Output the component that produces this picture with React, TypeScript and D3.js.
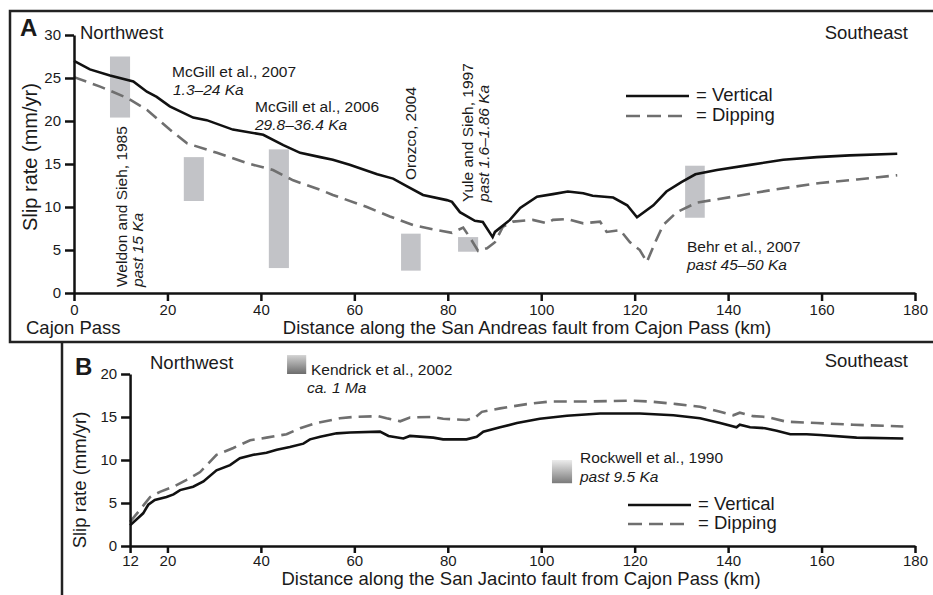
import * as d3 from 'd3';
import { useEffect, useRef } from 'react';

// San Andreas (panel A): [km, slip rate mm/yr]
const saVertical: [number, number][] = [
  [0, 27.0], [3.4, 26.0], [7.7, 25.3], [12.7, 24.6], [15.6, 23.4], [17.7, 22.8], [20.5, 21.7],
  [25.5, 20.4], [28.4, 20.1], [34, 19.0], [40.5, 18.4], [44.8, 17.2], [48.4, 16.3], [52.7, 15.8],
  [55.4, 15.5], [59, 14.9], [64.9, 13.8], [68.3, 13.3], [71.3, 12.4], [74.7, 11.4], [79.8, 10.8],
  [80.9, 10.6], [82.6, 9.4], [85.8, 8.4], [87.5, 8.25], [89.6, 6.5], [90.1, 7.1], [93.3, 8.5],
  [95.5, 9.9], [99.1, 11.2], [102.5, 11.5], [105.7, 11.8], [109, 11.6], [111, 11.3], [115.4, 11.1],
  [118.4, 10.2], [120.5, 8.8], [124, 10.2], [126.8, 11.8], [130, 12.9], [133, 13.8], [137.6, 14.3],
  [144.7, 14.9], [151.8, 15.5], [159, 15.8], [166, 16.0], [176.2, 16.2],
];
const saDipping: [number, number][] = [
  [0, 25.1], [5.6, 24.0], [11.3, 22.7], [15.6, 21.3], [20.5, 19.0], [24.2, 17.4], [30.6, 16.3],
  [37, 15.1], [42.6, 14.3], [46.9, 13.1], [52.7, 12.0], [55.4, 11.4], [62.7, 10.0], [67.6, 8.9],
  [72.6, 7.9], [76.9, 7.4], [80.9, 7.0], [83.3, 7.6], [84.8, 6.4], [86.5, 4.9], [88.4, 5.2],
  [90.1, 5.9], [91.8, 7.7], [94, 8.3], [98.2, 8.5], [101.2, 8.1], [102.5, 8.5], [105.5, 8.6],
  [109, 8.1], [112.6, 8.3], [114, 7.1], [116.9, 7.3], [119, 5.9], [121.1, 5.0], [122.6, 3.6],
  [124.4, 5.9], [126.1, 7.9], [129, 9.4], [133.3, 10.5], [141, 11.2], [149.6, 12.0], [159.7, 12.8],
  [167.6, 13.2], [176.2, 13.7],
];

// San Jacinto (panel B)
const sjVertical: [number, number][] = [
  [12, 2.4], [14.8, 3.8], [15.9, 4.8], [17.3, 5.35], [19.8, 5.7], [21.3, 6.0], [22.7, 6.5],
  [25.5, 6.9], [27.7, 7.5], [30.5, 8.8], [33.4, 9.4], [35.5, 10.2], [38.4, 10.6], [41.2, 10.85],
  [43.4, 11.2], [46.2, 11.5], [49.1, 11.9], [50.5, 12.4], [52.7, 12.7], [56.2, 13.1], [59.1, 13.2],
  [65.5, 13.3], [67.3, 12.8], [70.5, 12.5], [71.9, 12.8], [76.9, 12.6], [79, 12.4], [84, 12.4],
  [86.2, 12.7], [87.6, 13.3], [91.2, 13.8], [94.8, 14.3], [99.7, 14.8], [105.5, 15.15], [112.6, 15.4],
  [121.1, 15.4], [128.3, 15.2], [134, 14.85], [138.3, 14.3], [141.8, 13.8], [142.5, 14.1],
  [144.7, 13.8], [147.9, 13.7], [150.4, 13.4], [153.3, 13.0], [156.8, 13.0], [159.7, 12.9],
  [167.5, 12.6], [177.5, 12.5],
];
const sjDipping: [number, number][] = [
  [12, 2.8], [14.1, 4.2], [16.3, 5.7], [18.4, 6.3], [21.3, 6.9], [24.1, 7.7], [27, 8.6],
  [28.4, 9.4], [30.5, 10.6], [34.1, 11.4], [37.7, 12.3], [41.2, 12.6], [45.5, 13.0], [48.4, 13.7],
  [51.9, 14.3], [56.9, 14.85], [59.8, 15.0], [65.1, 15.1], [66.9, 14.85], [69.8, 14.5], [71.9, 14.95],
  [76.9, 15.0], [79, 14.8], [84, 14.65], [85.8, 14.9], [87.3, 15.6], [91.2, 16.0], [96.9, 16.5],
  [101.9, 16.8], [109, 16.8], [119, 16.9], [123.3, 16.8], [129, 16.5], [134, 16.2], [138.3, 15.6],
  [141.1, 15.2], [142.5, 15.5], [145.4, 15.1], [148.3, 15.0], [152.5, 14.45], [159, 14.3],
  [166.8, 14.1], [177.5, 13.9],
];

// measured slip-rate ranges, panel A: [km from, km to, rate low, rate high]
const saStudies: [number, number, number, number][] = [
  [7.7, 12, 20.4, 27.5],
  [23.5, 27.8, 10.7, 15.8],
  [41.7, 46, 2.9, 16.7],
  [70, 74.2, 2.6, 6.9],
  [82.2, 86.5, 4.8, 6.5],
  [130.8, 135, 8.75, 14.8],
];
// panel B gradient markers
const sjStudies: [number, number, number, number][] = [
  [45.6, 49.7, 20.0, 22.2],
  [102.3, 106.6, 7.3, 10.0],
];

const yTicksA = [0, 5, 10, 15, 20, 25, 30];
const yTicksB = [0, 5, 10, 15, 20];
const xTicksA = [0, 20, 40, 60, 80, 100, 120, 140, 160, 180];
const xTicksB = [12, 20, 40, 60, 80, 100, 120, 140, 160, 180];

const FONT = 'Arial, "Liberation Sans", sans-serif';
const DASH = '13,7';
const GRAY = '#6f6f6f';

const App = () => {
  const svgRef = useRef<SVGSVGElement>(null);

  useEffect(() => {
    const svg = d3.select(svgRef.current);
    svg.selectAll('*').remove();

    const x = d3.scaleLinear().domain([0, 180]).range([74, 915]);
    const yA = d3.scaleLinear().domain([0, 30]).range([293, 35]);
    const yB = d3.scaleLinear().domain([0, 20]).range([546, 374]);

    const defs = svg.append('defs');
    const grads = [['gK', '#d2d2d2', '#6c6c6c'], ['gR', '#ececec', '#7a7a7a']];
    grads.forEach(([id, c0, c1]) => {
      const g = defs.append('linearGradient').attr('id', id)
        .attr('x1', 0).attr('y1', 0).attr('x2', 0).attr('y2', 1);
      g.append('stop').attr('offset', '0%').attr('stop-color', c0);
      g.append('stop').attr('offset', '100%').attr('stop-color', c1);
    });

    // frames
    const frame = svg.append('g').attr('stroke', '#222').attr('stroke-width', 2.5).attr('fill', 'none');
    frame.append('path').attr('d', 'M933,11 H10 V342 H933');
    frame.append('path').attr('d', 'M62,342 V595');

    const txt = (g: any, s: string, tx: number, ty: number, size: number, opts: any = {}) => {
      const t = g.append('text')
        .attr('transform', `translate(${tx},${ty})${opts.rotate ? ' rotate(-90)' : ''}`)
        .attr('font-family', FONT).attr('font-size', size).attr('fill', '#1a1a1a')
        .attr('text-anchor', opts.anchor || 'start')
        .text(s);
      if (opts.italic) t.attr('font-style', 'italic');
      if (opts.bold) t.attr('font-weight', 'bold');
      return t;
    };

    const styleAxis = (g: any) => {
      g.select('.domain').attr('stroke', '#111').attr('stroke-width', 2.5);
      g.selectAll('.tick line').attr('stroke', '#111').attr('stroke-width', 2.5);
      g.selectAll('.tick text').attr('font-family', FONT).attr('font-size', 15).attr('fill', '#1a1a1a');
    };

    const line = d3.line<[number, number]>().x(d => x(d[0]));

    // ---------- panel A ----------
    const a = svg.append('g');
    a.selectAll('.bar').data(saStudies).enter().append('rect')
      .attr('x', d => x(d[0])).attr('width', d => x(d[1]) - x(d[0]))
      .attr('y', d => yA(d[3])).attr('height', d => yA(d[2]) - yA(d[3]))
      .attr('fill', '#c2c3c7');

    a.append('path').datum(saDipping)
      .attr('d', line.y(d => yA(d[1])))
      .attr('fill', 'none').attr('stroke', GRAY).attr('stroke-width', 2.6).attr('stroke-dasharray', DASH);
    a.append('path').datum(saVertical)
      .attr('d', line.y(d => yA(d[1])))
      .attr('fill', 'none').attr('stroke', '#111').attr('stroke-width', 2.6);

    a.append('g').attr('transform', 'translate(74,0)')
      .call(d3.axisLeft(yA).tickValues(yTicksA).tickSize(9).tickPadding(4).tickSizeOuter(0))
      .call(styleAxis);
    a.append('g').attr('transform', 'translate(0,293)')
      .call(d3.axisBottom(x).tickValues(xTicksA).tickSize(8).tickPadding(3).tickSizeOuter(0))
      .call(styleAxis);

    txt(a, 'A', 20, 36, 24, { bold: true });
    txt(a, 'Northwest', 80, 39, 18.5);
    txt(a, 'Southeast', 908, 39, 18.5, { anchor: 'end' });
    txt(a, 'Slip rate (mm/yr)', 37, 157, 20, { rotate: true, anchor: 'middle' });
    txt(a, 'Cajon Pass', 26, 334, 18.5);
    txt(a, 'Distance along the San Andreas fault from Cajon Pass (km)', 527, 334, 18.5, { anchor: 'middle' });

    txt(a, 'Weldon and Sieh, 1985', 127, 287, 15.5, { rotate: true });
    txt(a, 'past 15 Ka', 143, 287, 15.5, { rotate: true, italic: true });
    txt(a, 'McGill et al., 2007', 172, 77, 15.5);
    txt(a, '1.3–24 Ka', 173, 95, 15.5, { italic: true });
    txt(a, 'McGill et al., 2006', 255, 111.5, 15.5);
    txt(a, '29.8–36.4 Ka', 255, 129.5, 15.5, { italic: true });
    txt(a, 'Orozco, 2004', 416, 180, 15.5, { rotate: true });
    txt(a, 'Yule and Sieh, 1997', 473, 202, 15.5, { rotate: true });
    txt(a, 'past 1.6–1.86 Ka', 489, 202, 15.5, { rotate: true, italic: true });
    txt(a, 'Behr et al., 2007', 687, 252, 15.5);
    txt(a, 'past 45–50 Ka', 687, 269.5, 15.5, { italic: true });

    a.append('line').attr('x1', 626).attr('x2', 689).attr('y1', 96).attr('y2', 96)
      .attr('stroke', '#111').attr('stroke-width', 2.6);
    a.append('line').attr('x1', 626).attr('x2', 682).attr('y1', 116).attr('y2', 116)
      .attr('stroke', GRAY).attr('stroke-width', 2.6).attr('stroke-dasharray', '14,7');
    txt(a, '= Vertical', 696, 101, 18.5);
    txt(a, '= Dipping', 696, 121, 18.5);

    // ---------- panel B ----------
    const b = svg.append('g');
    b.selectAll('.sq').data(sjStudies).enter().append('rect')
      .attr('x', d => x(d[0])).attr('width', d => x(d[1]) - x(d[0]))
      .attr('y', d => yB(d[3])).attr('height', d => yB(d[2]) - yB(d[3]))
      .attr('fill', (_d, i) => (i === 0 ? 'url(#gK)' : 'url(#gR)'));

    b.append('path').datum(sjDipping)
      .attr('d', line.y(d => yB(d[1])))
      .attr('fill', 'none').attr('stroke', GRAY).attr('stroke-width', 2.6).attr('stroke-dasharray', DASH);
    b.append('path').datum(sjVertical)
      .attr('d', line.y(d => yB(d[1])))
      .attr('fill', 'none').attr('stroke', '#111').attr('stroke-width', 2.6);

    b.append('g').attr('transform', `translate(${x(12)},0)`)
      .call(d3.axisLeft(yB).tickValues(yTicksB).tickSize(9).tickPadding(4).tickSizeOuter(0))
      .call(styleAxis);
    const xb = d3.scaleLinear().domain([12, 180]).range([x(12), x(180)]);
    b.append('g').attr('transform', 'translate(0,546)')
      .call(d3.axisBottom(xb).tickValues(xTicksB).tickSize(7).tickPadding(2).tickSizeOuter(0))
      .call(styleAxis);

    txt(b, 'B', 75, 375, 24, { bold: true });
    txt(b, 'Northwest', 150, 369, 18.5);
    txt(b, 'Southeast', 908, 367, 18.5, { anchor: 'end' });
    txt(b, 'Slip rate (mm/yr)', 86, 480, 18.5, { rotate: true, anchor: 'middle' });
    txt(b, 'Distance along the San Jacinto fault from Cajon Pass (km)', 521, 585, 18.5, { anchor: 'middle' });

    txt(b, 'Kendrick et al., 2002', 311, 375, 15.5);
    txt(b, 'ca. 1 Ma', 307, 393, 15.5, { italic: true });
    txt(b, 'Rockwell et al., 1990', 580, 463, 15.5);
    txt(b, 'past 9.5 Ka', 580, 481.5, 15.5, { italic: true });

    b.append('line').attr('x1', 628).attr('x2', 691).attr('y1', 505).attr('y2', 505)
      .attr('stroke', '#111').attr('stroke-width', 2.6);
    b.append('line').attr('x1', 628).attr('x2', 684).attr('y1', 524).attr('y2', 524)
      .attr('stroke', GRAY).attr('stroke-width', 2.6).attr('stroke-dasharray', '14,7');
    txt(b, '= Vertical', 698, 510, 18.5);
    txt(b, '= Dipping', 698, 529, 18.5);
  }, []);

  return (
    <svg ref={svgRef} width={933} height={595}
      style={{ position: 'absolute', left: 0, top: 0, background: '#fff' }} />
  );
};

export default App;
